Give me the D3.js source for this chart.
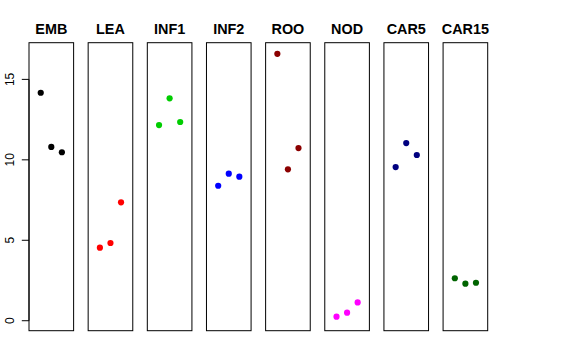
<!DOCTYPE html>
<html><head><meta charset="utf-8">
<script src="https://cdn.jsdelivr.net/npm/d3@7"></script>
<style>body{margin:0;background:#fff}svg{display:block}</style>
</head><body>
<script>
const categories = ["EMB","LEA","INF1","INF2","ROO","NOD","CAR5","CAR15"];
const colors = ["#000000","#FF0000","#00CD00","#0000FF","#8B0000","#FF00FF","#000080","#006400"];
const rep1 = [14.17, 4.54, 12.16, 8.39, 16.59, 0.25, 9.55, 2.64];
const rep2 = [10.80, 4.83, 13.82, 9.14, 9.41, 0.50, 11.04, 2.30];
const rep3 = [10.47, 7.36, 12.35, 8.95, 10.73, 1.14, 10.30, 2.36];
const yTicks = [0, 5, 10, 15];
const replicates = [1, 2, 3];

const W = 576, H = 360;
const svg = d3.select("body").append("svg").attr("width", W).attr("height", H);

const plotTop = 42.7, plotBottom = 330.7;
const y = d3.scaleLinear().domain([-0.62, 17.28]).range([plotBottom, plotTop]);
const panel = d3.scaleBand().domain(categories).range([29, 487.7]).paddingInner(0.2458).paddingOuter(0);
const bw = panel.bandwidth();
const xIn = d3.scaleLinear().domain([-0.11, 4.11]).range([0, bw]);

const font = "Liberation Sans, Arial, Helvetica, sans-serif";

categories.forEach((c, i) => {
  const g = svg.append("g").attr("transform", `translate(${panel(c)},0)`);
  g.append("rect").attr("x", 0).attr("y", plotTop).attr("width", bw).attr("height", plotBottom - plotTop)
    .attr("fill", "none").attr("stroke", "#000").attr("stroke-width", 1);
  g.append("text").attr("x", bw / 2).attr("y", 34).attr("text-anchor", "middle")
    .attr("font-family", font).attr("font-weight", "bold").attr("font-size", 14.4).text(c);
  const vals = [rep1[i], rep2[i], rep3[i]];
  g.selectAll("circle").data(vals).enter().append("circle")
    .attr("cx", (d, j) => xIn(replicates[j])).attr("cy", d => y(d))
    .attr("r", 3.1).attr("fill", colors[i]);
});

// y axis
const ax = svg.append("g").attr("transform", `translate(${panel(categories[0])},0)`);
ax.append("line").attr("x1", 0).attr("x2", 0).attr("y1", y(0)).attr("y2", y(15)).attr("stroke", "#000");
ax.selectAll("line.tick").data(yTicks).enter().append("line").attr("class", "tick")
  .attr("x1", -7.2).attr("x2", 0).attr("y1", d => y(d)).attr("y2", d => y(d)).attr("stroke", "#000");
ax.selectAll("text").data(yTicks).enter().append("text")
  .attr("transform", d => `translate(-15,${y(d)}) rotate(-90)`)
  .attr("text-anchor", "middle").attr("font-family", font).attr("font-size", 12)
  .text(d => d);
</script>
</body></html>
